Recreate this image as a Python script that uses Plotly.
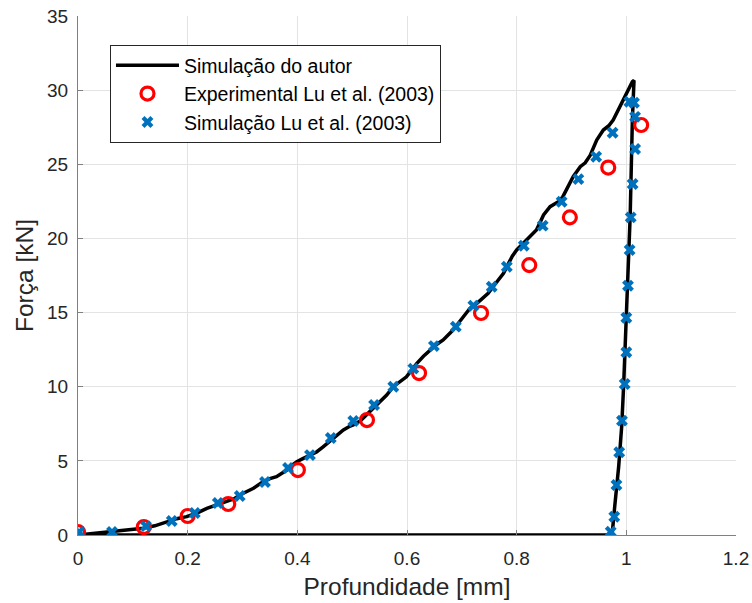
import plotly.graph_objects as go

# Simulação do autor (loading branch, unloading branch, return at zero)
autor_x = [0.0, 0.03, 0.061, 0.09, 0.119, 0.14, 0.162, 0.18, 0.198, 0.215, 0.235, 0.255, 0.271, 0.285,
           0.295, 0.31, 0.32, 0.338, 0.35, 0.362, 0.381, 0.39, 0.399, 0.41, 0.423, 0.435, 0.447, 0.458,
           0.466, 0.475, 0.484, 0.494, 0.502, 0.515, 0.526, 0.535, 0.545, 0.555, 0.563, 0.575, 0.587,
           0.599, 0.608, 0.618, 0.63, 0.642, 0.654, 0.666, 0.675, 0.684, 0.695, 0.703, 0.715, 0.727,
           0.739, 0.748, 0.757, 0.766, 0.776, 0.785, 0.792, 0.8, 0.81, 0.818, 0.828, 0.836, 0.843,
           0.849, 0.861, 0.876, 0.884, 0.891, 0.903, 0.916, 0.925, 0.934, 0.946, 0.958, 0.968, 0.976,
           0.985, 0.994, 1.004, 1.011, 1.014,
           1.011, 1.007, 1.003, 1.0, 0.995, 0.9915, 0.986, 0.979, 0.974,
           0.5, 0.0]
autor_y = [0.0, 0.1, 0.25, 0.35, 0.45, 0.62, 0.9, 1.1, 1.24, 1.45, 1.8, 2.05, 2.25, 2.45,
           2.7, 3.0, 3.15, 3.6, 3.8, 3.93, 4.38, 4.7, 4.94, 5.15, 5.39, 5.6, 5.95, 6.3,
           6.52, 6.8, 7.08, 7.3, 7.42, 7.7, 8.09, 8.45, 8.77, 9.1, 9.44, 10.0, 10.3,
           10.67, 11.1, 11.58, 12.05, 12.48, 12.85, 13.15, 13.45, 13.82, 14.35, 14.72, 15.29, 15.6,
           15.96, 16.3, 16.74, 17.2, 17.65, 18.3, 18.8, 19.22, 19.6, 19.89, 20.2, 20.57, 21.1,
           21.58, 22.14, 22.48, 22.8, 23.27, 24.16, 24.84, 25.1, 25.6, 26.64, 27.31, 27.6, 27.99,
           28.66, 29.22, 30.0, 30.57, 30.65,
           28.0, 21.5, 17.5, 14.05, 10.0, 7.3, 4.6, 2.0, 0.0,
           0.0, 0.0]

# Experimental Lu et al. (2003)
exp_x = [0.0, 0.120, 0.200, 0.274, 0.401, 0.527, 0.622, 0.735, 0.823, 0.897, 0.967, 1.027]
exp_y = [0.2, 0.54, 1.28, 2.09, 4.38, 7.75, 10.92, 14.97, 18.2, 21.42, 24.78, 27.65]

# Simulação Lu et al. (2003)
lu_x = [0.002, 0.062, 0.124, 0.171, 0.213, 0.255, 0.295, 0.341, 0.383, 0.423, 0.461, 0.502,
        0.540, 0.575, 0.6115, 0.649, 0.689, 0.721, 0.7545, 0.782, 0.813, 0.8475, 0.882, 0.9125,
        0.945, 0.975, 1.0055,
        1.014, 1.016, 1.016, 1.0115, 1.008, 1.006, 1.003, 1.0, 1.0, 0.997, 0.992, 0.987, 0.982,
        0.978, 0.9715]
lu_y = [0.2, 0.2, 0.6, 0.94, 1.48, 2.16, 2.63, 3.57, 4.52, 5.39, 6.54, 7.69,
        8.77, 10.0, 11.22, 12.74, 14.05, 15.46, 16.74, 18.09, 19.51, 20.86, 22.47, 24.0,
        25.51, 27.13, 29.22,
        29.15, 28.2, 26.03, 23.67, 21.42, 19.22, 16.81, 14.65, 12.32, 10.18, 7.71, 5.58, 3.37,
        1.23, 0.22]

x_ticks = [0, 0.2, 0.4, 0.6, 0.8, 1, 1.2]
x_ticklabels = ["0", "0.2", "0.4", "0.6", "0.8", "1", "1.2"]
y_ticks = [0, 5, 10, 15, 20, 25, 30, 35]

FONT = "Liberation Sans, Arial, Helvetica, sans-serif"
TXT = "#262626"

fig = go.Figure()
fig.add_trace(go.Scatter(x=autor_x, y=autor_y, mode="lines", name="Simulação do autor",
                         line=dict(color="black", width=3.5)))
fig.add_trace(go.Scatter(x=exp_x, y=exp_y, mode="markers", name="Experimental Lu et al. (2003)",
                         marker=dict(symbol="circle-open", size=13, color="#FF0000",
                                     line=dict(width=3.2, color="#FF0000"))))
fig.add_trace(go.Scatter(x=lu_x, y=lu_y, mode="markers", name="Simulação Lu et al. (2003)",
                         marker=dict(symbol="x", size=10.5, color="#0072BD",
                                     line=dict(width=0))))

axis_common = dict(showgrid=True, gridcolor="#E3E3E3", gridwidth=1, zeroline=False,
                   showline=True, linecolor="#808080", linewidth=1, ticks="inside",
                   ticklen=5, tickcolor="#808080", mirror=False, automargin=False,
                   tickfont=dict(family=FONT, size=19, color=TXT))

fig.update_xaxes(range=[0, 1.2], tickvals=x_ticks, ticktext=x_ticklabels,
                 ticklabelstandoff=6,
                 title=dict(text="Profundidade [mm]", font=dict(family=FONT, size=24.5, color=TXT),
                            standoff=10),
                 **axis_common)
fig.update_yaxes(range=[0, 35], tickvals=y_ticks, ticklabelstandoff=5,
                 title=dict(text="Força [kN]", font=dict(family=FONT, size=24.5, color=TXT),
                            standoff=6),
                 **axis_common)

fig.update_layout(
    width=752, height=603,
    margin=dict(l=78, r=16, t=16, b=68, autoexpand=False),
    plot_bgcolor="white", paper_bgcolor="white",
    font=dict(family=FONT, color=TXT),
    legend=dict(x=0.0486, y=0.944, xanchor="left", yanchor="top",
                bgcolor="white", bordercolor="#262626", borderwidth=1,
                font=dict(family=FONT, size=19.5, color="black"),
                itemwidth=63, tracegroupgap=0),
    showlegend=True,
)

fig.write_html("out.html", config={"displayModeBar": False},
               post_script="document.body.style.margin='0px';")
